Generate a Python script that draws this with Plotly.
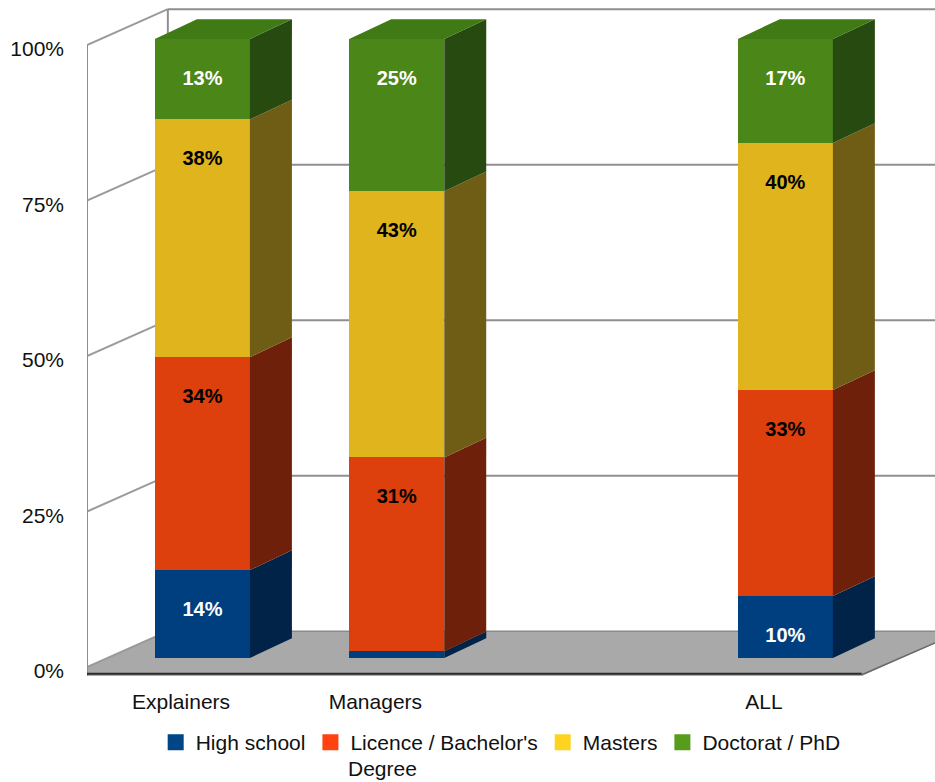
import plotly.graph_objects as go

# Chart data: share of each education level per group, in percent
groups = ["Explainers", "Managers", "ALL"]
group_pos = [0, 1, 3]
levels = ["High school", "Licence / Bachelor's", "Masters", "Doctorat / PhD"]
high_school = [14.2, 1.1, 10.0]
licence = [34.4, 31.3, 33.3]
masters = [38.4, 43.0, 39.9]
doctorate = [13.0, 24.6, 16.8]
series = [high_school, licence, masters, doctorate]
y_ticks = [0, 25, 50, 75, 100]

# Palette: legend swatch, lit front face, shaded side face
swatch = ["#004586", "#ff420e", "#ffd320", "#579d1c"]
front = ["#003f7f", "#dd3f0d", "#dfb41c", "#4b8618"]
side = ["#002347", "#6f200a", "#6f5c15", "#264a10"]
top_face = "#3f7a15"
label_color = ["white", "black", "black", "white"]
WALL = "#8f8f8f"

# Pseudo-3D extrusion, in axis units
BAR_W = 0.489
BAR_DX, BAR_DY = 0.216, 3.2
X_LEFT, X_BACK, X_RIGHT_FRONT, X_END = -0.594, -0.178, 3.393, 3.77
Y_FRONT, Y_BACK = 0.64, 6.4
LABEL_DROP = 6.6

fig = go.Figure()


def poly(xs, ys, color, axis="y2", line=None):
    fig.add_trace(go.Scatter(
        x=xs, y=ys, yaxis=axis, mode="lines", fill="toself", fillcolor=color,
        line=dict(color=line or color, width=1 if line else 0),
        showlegend=False, hoverinfo="skip"))


def line(xs, ys, color=WALL, width=2):
    fig.add_trace(go.Scatter(
        x=xs, y=ys, yaxis="y", mode="lines", line=dict(color=color, width=width),
        showlegend=False, hoverinfo="skip"))


# Floor
poly([X_LEFT, X_BACK, X_END, X_END, X_RIGHT_FRONT, X_LEFT],
     [Y_FRONT, Y_BACK, Y_BACK, 4.5, -0.8, -0.8], "#a9a9a9", axis="y")

# Back wall and left wall grid
for t in y_ticks:
    if t > 0:
        line([X_BACK, X_END], [t + Y_BACK, t + Y_BACK])
    else:
        line([X_BACK, X_END], [t + Y_BACK, t + Y_BACK], color="#8a8a8a", width=1.5)
    line([X_LEFT, X_BACK], [t + Y_FRONT, t + Y_BACK], color="#9a9a9a")
line([X_LEFT, X_LEFT], [-0.8, 100 + Y_FRONT])
line([X_BACK, X_BACK], [Y_BACK, 100 + Y_BACK])

# Front edge of the floor
line([X_LEFT, X_RIGHT_FRONT], [-0.45, -0.45], color="#2a2a2a", width=2)
line([X_RIGHT_FRONT, X_END], [-0.6, 4.5], color="#6a6a6a", width=1.5)

# Front faces as stacked bars
for k, vals in enumerate(series):
    fig.add_trace(go.Bar(
        x=group_pos, y=vals, width=BAR_W, yaxis="y2", marker=dict(color=front[k], line=dict(width=0)),
        showlegend=False, hoverinfo="skip"))

# Side faces and top caps follow the stacked values
label_x, label_y, label_text, label_cols = [], [], [], []
for g, pos in enumerate(group_pos):
    base = 0
    right = pos + BAR_W / 2
    left = pos - BAR_W / 2
    for k, vals in enumerate(series):
        upper = base + vals[g]
        poly([right, right + BAR_DX, right + BAR_DX, right, right],
             [base, base + BAR_DY, upper + BAR_DY, upper, base], side[k])
        if vals[g] >= 5:
            label_x.append(pos)
            label_y.append(upper - LABEL_DROP)
            label_text.append(f"{round(vals[g])}%")
            label_cols.append(label_color[k])
        base = upper
    poly([left, left + BAR_DX, right + BAR_DX, right, left],
         [base, base + BAR_DY, base + BAR_DY, base, base], top_face)

fig.add_trace(go.Scatter(
    x=label_x, y=label_y, yaxis="y2", mode="text", text=label_text,
    textposition="middle center",
    textfont=dict(family="Liberation Sans", size=20, color=label_cols, weight="bold"),
    showlegend=False, hoverinfo="skip"))

# Legend entries
for k, name in enumerate(levels):
    fig.add_trace(go.Scatter(
        x=[None], y=[None], yaxis="y2", mode="markers", name=name,
        marker=dict(symbol="square", size=16, color=swatch[k])))

# The bottom margin is kept large enough for the legend box; the plot stops at 676 px
MARGIN_B = 10
AREA_H = 782 - MARGIN_B
PLOT_BOTTOM = (AREA_H - 676) / AREA_H
fig.update_layout(
    width=935, height=782, autosize=False,
    margin=dict(l=87, r=0, t=0, b=MARGIN_B),
    paper_bgcolor="white", plot_bgcolor="white",
    barmode="stack",
    font=dict(family="Liberation Sans, Arial, sans-serif", size=21, color="#111111"),
    showlegend=True,
    legend=dict(orientation="h", x=0.081, xanchor="left", y=(AREA_H - 722) / AREA_H, yanchor="top",
                bgcolor="rgba(0,0,0,0)", font=dict(size=21), traceorder="normal"),
    xaxis=dict(range=[X_LEFT, X_END], tickmode="array", tickvals=[p - 0.11 for p in group_pos],
               ticktext=groups, showgrid=False, zeroline=False, showline=False, ticks="",
               ticklabelstandoff=11, anchor="y"),
    yaxis=dict(domain=[PLOT_BOTTOM, 1], range=[-0.80, 107.88], tickmode="array", tickvals=y_ticks,
               ticktext=[f"{t}%" for t in y_ticks], showgrid=False, zeroline=False,
               showline=False, ticks="", ticklabelstandoff=22),
    yaxis2=dict(domain=[PLOT_BOTTOM, 1], range=[-2.908, 106.30], overlaying="y", side="left", visible=False),
    annotations=[dict(text="Degree", xref="paper", yref="paper", x=0.3055, y=-MARGIN_B / AREA_H,
                      xanchor="left", yanchor="bottom", showarrow=False,
                      font=dict(size=21, color="#111111"))],
)

fig.write_html("out.html")
